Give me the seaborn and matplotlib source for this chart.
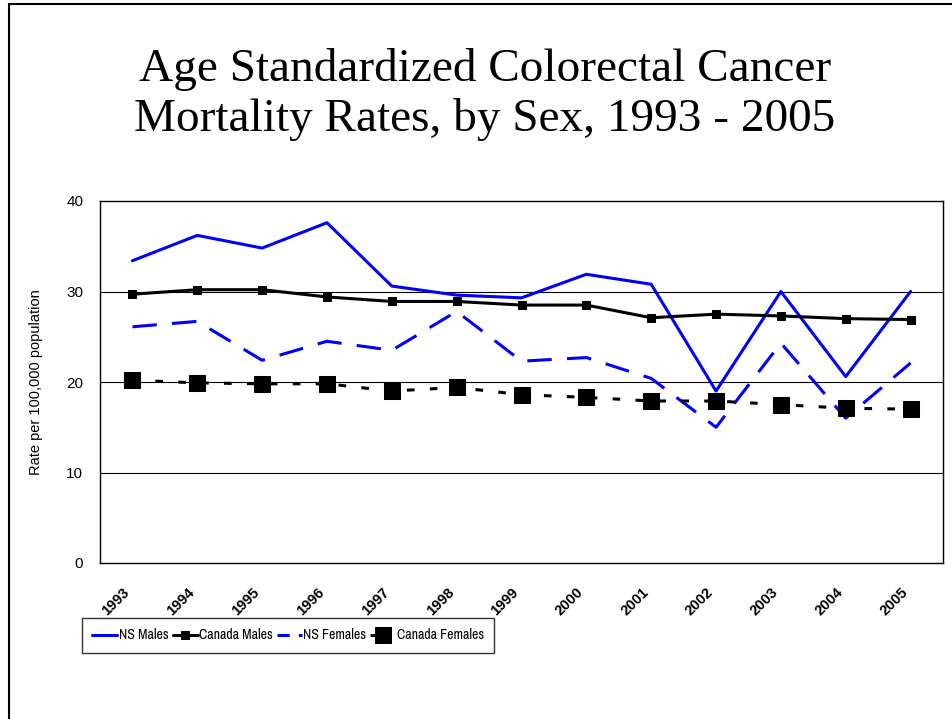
import matplotlib
matplotlib.use("Agg")
import matplotlib.pyplot as plt
import pandas as pd
import seaborn as sns
from matplotlib.patches import Rectangle

# Data
years = [1993, 1994, 1995, 1996, 1997, 1998, 1999, 2000, 2001, 2002, 2003, 2004, 2005]
ns_males = [33.4, 36.2, 34.8, 37.6, 30.6, 29.6, 29.3, 31.9, 30.8, 19.0, 30.0, 20.6, 30.0]
canada_males = [29.7, 30.2, 30.2, 29.4, 28.9, 28.9, 28.5, 28.5, 27.1, 27.5, 27.3, 27.0, 26.9]
ns_females = [26.1, 26.7, 22.4, 24.5, 23.5, 27.8, 22.3, 22.7, 20.4, 15.0, 24.3, 16.0, 22.1]
canada_females = [20.2, 19.9, 19.8, 19.8, 19.0, 19.4, 18.6, 18.3, 17.9, 17.9, 17.5, 17.1, 17.0]
y_ticks = [0, 10, 20, 30, 40]

TITLE = "Age Standardized Colorectal Cancer\nMortality Rates, by Sex, 1993 - 2005"
Y_LABEL = "Rate per 100,000 population"

df = pd.DataFrame({
    "Year": years,
    "NS Males": ns_males,
    "Canada Males": canada_males,
    "NS Females": ns_females,
    "Canada Females": canada_females,
})

sns.set_style("white")
plt.rcParams["font.family"] = ["Liberation Sans", "DejaVu Sans"]
for key in ["text.color", "axes.labelcolor", "xtick.color", "ytick.color"]:
    plt.rcParams[key] = "black"

fig = plt.figure(figsize=(9.52, 7.19), dpi=100)
ax = fig.add_axes([100 / 952, 1 - 563 / 719, 843 / 952, 362 / 719])

blue = "#0000FF"
lw = 2.2

sns.lineplot(data=df, x="Year", y="NS Males", ax=ax, color=blue, lw=lw,
             label="NS Males")
sns.lineplot(data=df, x="Year", y="Canada Males", ax=ax, color="black", lw=lw,
             marker="s", markersize=6, markeredgecolor="black",
             label="Canada Males")
sns.lineplot(data=df, x="Year", y="NS Females", ax=ax, color=blue, lw=lw,
             label="NS Females").lines[-1].set_dashes((8, 5))
sns.lineplot(data=df, x="Year", y="Canada Females", ax=ax, color="black", lw=lw,
             marker="s", markersize=11, markeredgecolor="black",
             label="Canada Females").lines[-1].set_dashes((2.5, 5))

ax.set_xlim(years[0] - 0.5, years[-1] + 0.5)
ax.set_ylim(0, 40)
ax.set_yticks(y_ticks)
ax.set_xticks(years)
ax.set_xticklabels([str(y) for y in years], rotation=45, ha="right", va="bottom",
                   rotation_mode="anchor", fontweight="bold", fontsize=10.5)
ax.tick_params(axis="both", length=0)
ax.tick_params(axis="y", labelsize=11, pad=12)
ax.tick_params(axis="x", pad=23)
ax.set_xlabel("")
ax.set_ylabel(Y_LABEL, fontsize=10.5)
ax.yaxis.set_label_coords(-0.068, 0.5)

for y in y_ticks[1:-1]:
    ax.axhline(y, color="black", lw=0.8, zorder=0)
for spine in ax.spines.values():
    spine.set_color("black")
    spine.set_linewidth(1.0)
    spine.set_visible(True)

ax.get_legend().remove()
handles, labels = ax.get_legend_handles_labels()
leg = fig.legend(handles, labels, loc="upper left",
                 bbox_to_anchor=(82 / 952, 1 - 618 / 719), ncol=4,
                 frameon=True, fancybox=False, handlelength=1.8,
                 handletextpad=0.1, columnspacing=0.3, borderpad=0.75,
                 borderaxespad=0,
                 prop={"family": ["Archivo Narrow", "Liberation Sans"], "size": 10})
leg.get_frame().set_edgecolor("black")
leg.get_frame().set_linewidth(1.0)
# shorter dash pattern so the short legend handles still read as dashed
leg.legend_handles[2].set_dashes((4, 3))
leg.legend_handles[3].set_dashes((1.5, 3))

fig.text(485 / 952, 1 - 48 / 719, TITLE, ha="center", va="top",
         fontsize=34, family="Liberation Serif", linespacing=1.2)

# outer chart border
fig.patches.append(Rectangle((9 / 952, -0.05), 1.2, 1 - 4 / 719 + 0.05,
                             transform=fig.transFigure, fill=False,
                             edgecolor="black", lw=1.5))

fig.savefig("out.png", dpi=100)
